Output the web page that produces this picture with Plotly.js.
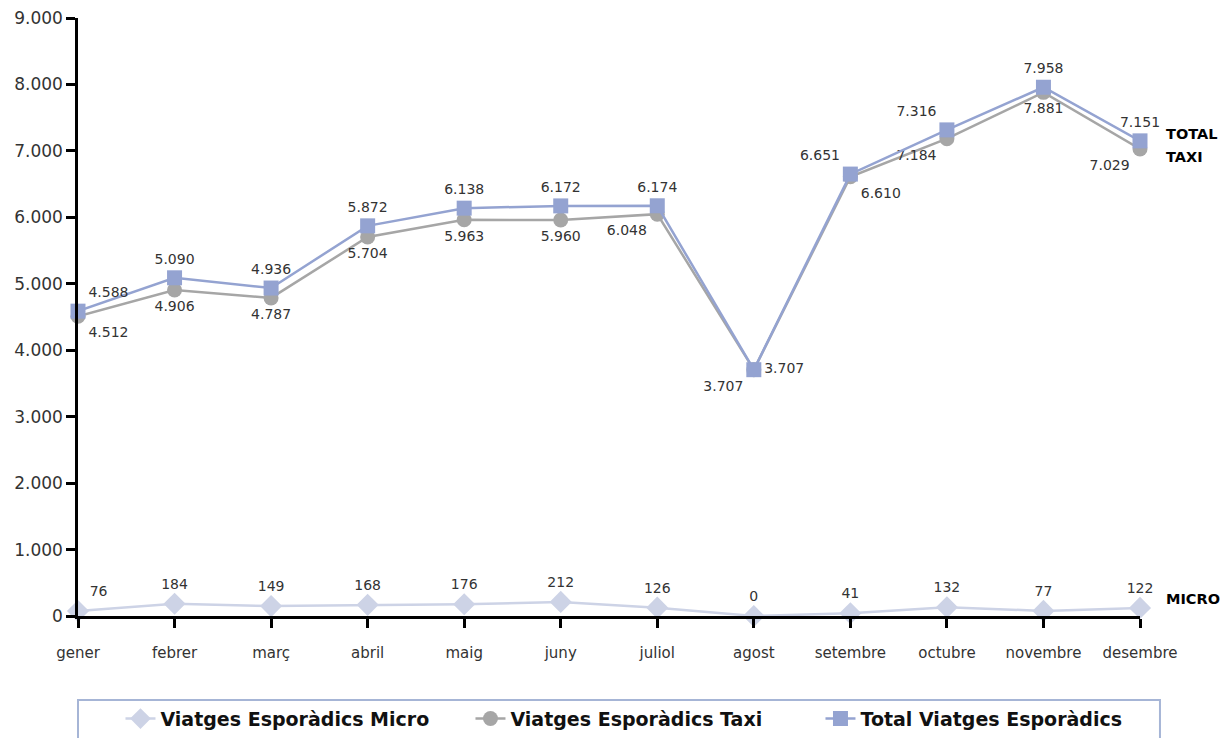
<!DOCTYPE html>
<html>
<head>
<meta charset="utf-8">
<script src="https://cdn.plot.ly/plotly-3.0.1.min.js"></script>
<style>html,body{margin:0;padding:0;background:#fff;}#chart{width:1223px;height:738px;}</style>
</head>
<body>
<div id="chart"></div>
<script>
const months = ['gener','febrer','març','abril','maig','juny','juliol','agost','setembre','octubre','novembre','desembre'];
const micro = [76,184,149,168,176,212,126,0,41,132,77,122];
const taxi = [4512,4906,4787,5704,5963,5960,6048,3707,6610,7184,7881,7029];
const total = [4588,5090,4936,5872,6138,6172,6174,3707,6651,7316,7958,7151];
const microLabel = 'Viatges Esporàdics Micro';
const taxiLabel = 'Viatges Esporàdics Taxi';
const totalLabel = 'Total Viatges Esporàdics';

const fmt = v => v.toLocaleString('de-DE');
const FONT = 'DejaVu Sans, Verdana, sans-serif';
const labelFont = {family:FONT, size:14, color:'#333'};

const microPos = ['top right','top center','top center','top center','top center','top center','top center','top center','top center','top center','top center','top center'];
const taxiPos = ['bottom right','bottom center','bottom center','bottom center','bottom center','bottom center','bottom left','bottom left','bottom right','bottom left','bottom center','bottom left'];
const totalPos = ['top right','top center','top center','top center','top center','top center','top center','middle right','top left','top left','top center','top center'];

const traces = [
  {x:months, y:micro, name:microLabel, type:'scatter', mode:'lines+markers+text',
   line:{color:'#cdd3e6', width:2.5}, marker:{symbol:'diamond', size:17, color:'#cdd3e6'},
   text:micro.map(fmt), textposition:microPos, textfont:labelFont, cliponaxis:false},
  {x:months, y:taxi, name:taxiLabel, type:'scatter', mode:'lines+markers+text',
   line:{color:'#a6a6a6', width:2.5}, marker:{symbol:'circle', size:15, color:'#a6a6a6'},
   text:taxi.map(fmt), textposition:taxiPos, textfont:labelFont, cliponaxis:false},
  {x:months, y:total, name:totalLabel, type:'scatter', mode:'lines+markers+text',
   line:{color:'#94a3d1', width:2.5}, marker:{symbol:'square', size:15, color:'#94a3d1'},
   text:total.map(fmt), textposition:totalPos, textfont:labelFont, cliponaxis:false}
];

const layout = {
  width:1223, height:738,
  margin:{l:78, r:83, t:18, b:122, autoexpand:false},
  paper_bgcolor:'#fff', plot_bgcolor:'#fff',
  separators:',.',
  font:{family:FONT, color:'#333'},
  showlegend:true,
  xaxis:{type:'category', range:[0,11], showgrid:false, zeroline:false,
    showline:true, linecolor:'#000', linewidth:2.5,
    ticks:'outside', ticklen:9, tickwidth:2.5, tickcolor:'#000',
    tickfont:{family:FONT, size:15, color:'#333'}, ticklabelstandoff:12},
  yaxis:{range:[0,9000], dtick:1000, tickformat:',d', showgrid:false, zeroline:false,
    showline:true, linecolor:'#000', linewidth:2.5,
    ticks:'outside', ticklen:9, tickwidth:2.5, tickcolor:'#000',
    tickfont:{family:FONT, size:17, color:'#333'}},
  legend:{orientation:'h', x:0.04, xanchor:'left', y:-0.14, yanchor:'top',
    borderwidth:0, entrywidth:305, bgcolor:'rgba(0,0,0,0)',
    font:{family:FONT, size:19, color:'#111', weight:'bold'}},
  shapes:[
    {type:'rect', xref:'paper', yref:'paper', x0:0, x1:1.0188, y0:-0.1405, y1:-0.215,
     line:{color:'#a6b5d6', width:2}, fillcolor:'rgba(0,0,0,0)'}
  ],
  annotations:[
    {xref:'paper', yref:'y', x:1, y:7254, xanchor:'left', xshift:24, text:'<b>TOTAL</b>', showarrow:false, font:{family:FONT, size:14.5, color:'#000'}},
    {xref:'paper', yref:'y', x:1, y:6908, xanchor:'left', xshift:24, text:'<b>TAXI</b>', showarrow:false, font:{family:FONT, size:14.5, color:'#000'}},
    {xref:'paper', yref:'y', x:1, y:256, xanchor:'left', xshift:24, text:'<b>MICRO</b>', showarrow:false, font:{family:FONT, size:14.5, color:'#000'}}
  ]
};

Plotly.newPlot('chart', traces, layout, {displayModeBar:false});
</script>
</body>
</html>
